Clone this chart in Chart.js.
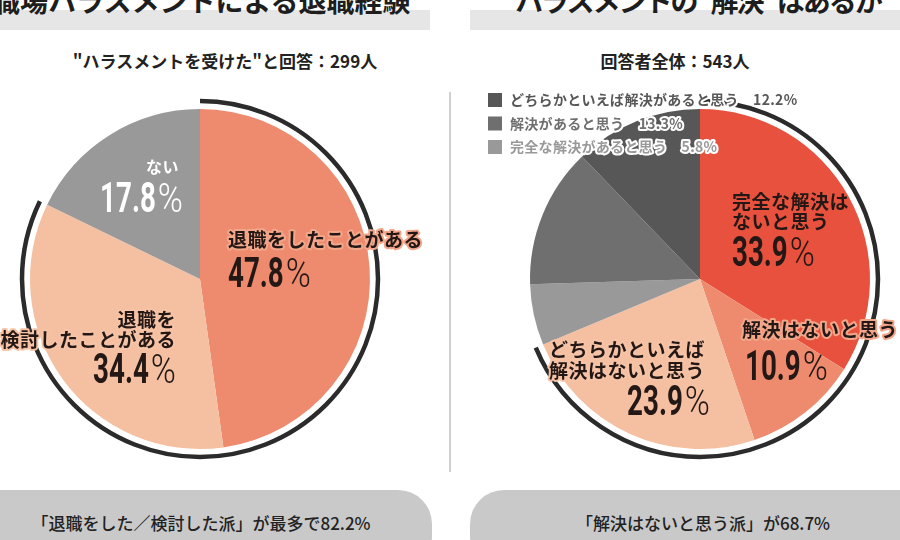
<!DOCTYPE html>
<html lang="ja">
<head>
<meta charset="utf-8">
<script src="https://cdn.jsdelivr.net/npm/chart.js@4.4.1/dist/chart.umd.min.js"></script>
<style>
  html, body { margin: 0; padding: 0; background: #fff; }
  body {
    width: 900px; height: 540px; position: relative; overflow: hidden;
    font-family: "Noto Sans CJK JP", "Noto Sans", sans-serif; color: #222;
  }
  .band { position: absolute; top: 10px; height: 20px; background: #e6e6e6; }
  .title { position: absolute; top: -14px; font-size: 28px; font-weight: 700; line-height: 1; white-space: nowrap; color: #1e1e1e; }
  .sub { position: absolute; top: 50px; width: 450px; text-align: center; font-size: 17px; font-weight: 600; line-height: 22px; color: #222; }
  .divider { position: absolute; left: 449px; top: 92px; width: 2px; height: 380px; background: #d0d0d0; }
  .pill { position: absolute; top: 490px; height: 80px; background: #c9c9c9; border-radius: 34px; }
  .pillText { position: absolute; top: 510px; width: 400px; text-align: center; font-size: 17px; font-weight: 500; color: #222; white-space: nowrap; }
  .chartBox { position: absolute; top: 79px; width: 450px; height: 400px; }
</style>
</head>
<body>

<div class="band" style="left:0; width:430px;"></div>
<div class="band" style="left:470px; width:430px;"></div>
<div class="title" style="left:-8px;">職場ハラスメントによる退職経験</div>
<div class="title" style="left:515px; letter-spacing:-2px;">ハラスメントの“解決”はあるか</div>

<div class="sub" style="left:0;">"ハラスメントを受けた"と回答：299人</div>
<div class="sub" style="left:450px;">回答者全体：543人</div>

<div class="divider"></div>

<div class="chartBox" style="left:0;"><canvas id="leftPie"></canvas></div>
<div class="chartBox" style="left:450px;"><canvas id="rightPie"></canvas></div>

<div class="pill" style="left:-40px; width:472px;"></div>
<div class="pill" style="left:470px; width:470px;"></div>
<div class="pillText" style="left:1px;">「退職をした／検討した派」が最多で82.2%</div>
<div class="pillText" style="left:503px;">「解決はないと思う派」が68.7%</div>

<script>
// ---------- データ ----------
const leftLabels = ['退職をしたことがある', '退職を検討したことがある', 'ない'];
const leftValues = [47.8, 34.4, 17.8];
const leftLines = [['退職をしたことがある'], ['退職を', '検討したことがある'], ['ない']];

const rightLabels = [
  '完全な解決はないと思う', '解決はないと思う', 'どちらかといえば解決はないと思う',
  '完全な解決があると思う', '解決があると思う', 'どちらかといえば解決があると思う'
];
const rightValues = [33.9, 10.9, 23.9, 5.8, 13.3, 12.2];
const rightLines = [
  ['完全な解決は', 'ないと思う'], ['解決はないと思う'], ['どちらかといえば', '解決はないと思う'],
  [], [], []
];
const rightLegendOrder = [5, 4, 3];   // 凡例に出す項目

// ---------- 色 ----------
const leftColors = ['#ee8b6e', '#f5c0a1', '#999999'];
const rightColors = ['#e8513d', '#ee8b6e', '#f5c0a1', '#999999', '#6f6f6f', '#575757'];

const JP = '"Noto Sans CJK JP", "Noto Sans", sans-serif';
const NUM = 'Roboto, "DejaVu Sans", sans-serif';

// 数字（細長い書体っぽく横に詰める）
function drawValue(ctx, value, x, y, align, color) {
  const num = value.toFixed(1);
  const sx = 0.66, px = 0.85;
  ctx.save();
  ctx.font = '700 42px ' + NUM;
  const nw = ctx.measureText(num).width * sx;
  ctx.font = '300 40px ' + NUM;
  const pw = ctx.measureText('%').width * px;
  const gap = 2;
  const left = align === 'right' ? x - (nw + gap + pw) : x;
  ctx.fillStyle = color;
  ctx.textAlign = 'left';
  ctx.textBaseline = 'alphabetic';

  ctx.save();
  ctx.translate(left, y);
  ctx.scale(sx, 1);
  ctx.font = '700 42px ' + NUM;
  ctx.fillText(num, 0, 0);
  ctx.restore();

  ctx.save();
  ctx.translate(left + nw + gap, y);
  ctx.scale(px, 1);
  ctx.font = '300 40px ' + NUM;
  ctx.fillText('%', 0, 0);
  ctx.restore();
  ctx.restore();
}

// 外側の黒いカッコ状の弧
const bracketArc = {
  id: 'bracketArc',
  afterDatasetsDraw(chart, args, opts) {
    const arcs = chart.getDatasetMeta(0).data;
    const first = arcs[0];
    const last = arcs[opts.count - 1];
    const ctx = chart.ctx;
    ctx.save();
    ctx.beginPath();
    ctx.arc(first.x, first.y, first.outerRadius + opts.gap, first.startAngle, last.endAngle);
    ctx.lineWidth = opts.width;
    ctx.strokeStyle = opts.color;
    ctx.stroke();
    ctx.restore();
  }
};

// スライスのラベル
const sliceLabels = {
  id: 'sliceLabels',
  afterDraw(chart, args, opts) {
    const ctx = chart.ctx;
    const arc0 = chart.getDatasetMeta(0).data[0];
    const cx = arc0.x, cy = arc0.y;
    const values = chart.data.datasets[0].data;
    opts.items.forEach(it => {
      const lines = opts.lines[it.index];
      ctx.save();
      ctx.font = `700 ${it.size || 19}px ${JP}`;
      ctx.letterSpacing = '0.5px';
      ctx.textAlign = it.align;
      ctx.textBaseline = 'middle';
      ctx.lineJoin = 'round';
      lines.forEach((line, i) => {
        const x = cx + it.dx, y = cy + it.dy + i * (it.gap || 20);
        if (it.stroke) {
          ctx.strokeStyle = it.stroke;
          ctx.lineWidth = 4;
          ctx.strokeText(line, x, y);
        }
        ctx.fillStyle = it.color;
        ctx.fillText(line, x, y);
      });
      ctx.restore();
      drawValue(ctx, values[it.index], cx + it.vdx, cy + it.vdy, it.align, it.color);
    });
  }
};

// 凡例（白フチ文字）
const outlineLegend = {
  id: 'outlineLegend',
  afterDraw(chart, args, opts) {
    if (!opts.order) return;
    const ctx = chart.ctx;
    const ds = chart.data.datasets[0];
    opts.order.forEach((idx, row) => {
      const y = opts.y + row * opts.step;
      const color = ds.backgroundColor[idx];
      ctx.save();
      ctx.fillStyle = color;
      ctx.fillRect(opts.x, y - 7, 14, 14);
      ctx.font = `700 14px ${JP}`;
      ctx.letterSpacing = '0.3px';
      ctx.textAlign = 'left';
      ctx.textBaseline = 'middle';
      ctx.lineJoin = 'round';
      const text = chart.data.labels[idx] + '　' + ds.data[idx].toFixed(1) + '%';
      ctx.strokeStyle = '#ffffff';
      ctx.lineWidth = 4;
      ctx.strokeText(text, opts.x + 22, y);
      ctx.fillStyle = color;
      ctx.fillText(text, opts.x + 22, y);
      ctx.restore();
    });
  }
};

function createPie({ canvasId, labels, values, colors, padding, bracket, lines, items, legend }) {
  const ctx = document.getElementById(canvasId).getContext('2d');
  return new Chart(ctx, {
    type: 'pie',
    data: {
      labels,
      datasets: [{
        data: values,
        backgroundColor: colors,
        borderWidth: 0,
        hoverOffset: 0,
        radius: 170
      }]
    },
    options: {
      responsive: true,
      maintainAspectRatio: false,
      animation: false,
      events: [],
      layout: { padding },
      plugins: {
        legend: { display: false },
        tooltip: { enabled: false },
        bracketArc: bracket,
        sliceLabels: { lines, items },
        outlineLegend: legend || {}
      }
    },
    plugins: [bracketArc, sliceLabels, outlineLegend]
  });
}

createPie({
  canvasId: 'leftPie',
  labels: leftLabels,
  values: leftValues,
  colors: leftColors,
  padding: { left: 0, right: 50, top: 0, bottom: 0 },
  bracket: { count: 2, gap: 8, width: 4.5, color: '#2b2b2b' },
  lines: leftLines,
  items: [
    { index: 0, align: 'left', dx: 28, dy: -39, color: '#231815', stroke: '#f2a68a', vdx: 28, vdy: 8 },
    { index: 1, align: 'right', dx: -24, dy: 41, gap: 20, color: '#231815', stroke: '#f6c3a6', vdx: -24, vdy: 104 },
    { index: 2, align: 'right', dx: -21, dy: -112, size: 16, color: '#ffffff', vdx: -17, vdy: -67 }
  ]
});

createPie({
  canvasId: 'rightPie',
  labels: rightLabels,
  values: rightValues,
  colors: rightColors,
  padding: { left: 50, right: 0, top: 0, bottom: 0 },
  bracket: { count: 3, gap: 8, width: 4.5, color: '#2b2b2b' },
  lines: rightLines,
  items: [
    { index: 0, align: 'left', dx: 32, dy: -77, gap: 20, color: '#231815', vdx: 32, vdy: -13 },
    { index: 1, align: 'left', dx: 42, dy: 51, color: '#231815', stroke: '#f2a68a', vdx: 45, vdy: 101 },
    { index: 2, align: 'right', dx: 5, dy: 71, gap: 21, color: '#231815', stroke: '#f6c3a6', vdx: 10, vdy: 136 }
  ],
  legend: { order: rightLegendOrder, x: 38, y: 21, step: 23.5 }
});
</script>
</body>
</html>
